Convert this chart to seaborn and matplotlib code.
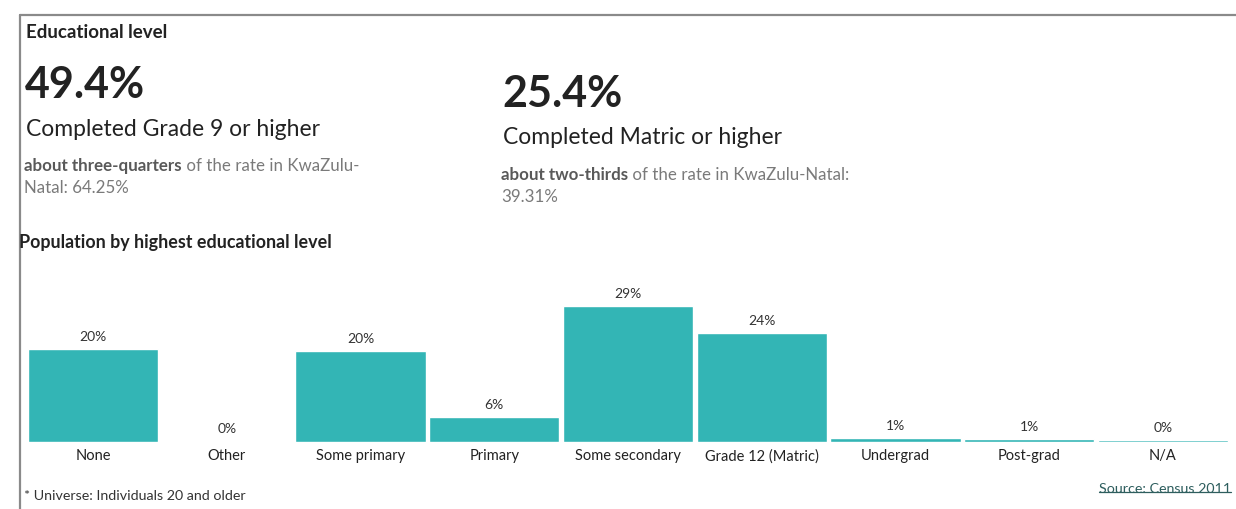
import matplotlib
matplotlib.use("Agg")
import matplotlib.pyplot as plt
import seaborn as sns
import pandas as pd
from matplotlib.lines import Line2D

# ---- data ----
categories = ["None", "Other", "Some primary", "Primary", "Some secondary",
              "Grade 12 (Matric)", "Undergrad", "Post-grad", "N/A"]
values = [19.8, 0.0, 19.4, 5.3, 29.0, 23.3, 0.85, 0.6, 0.35]
value_labels = ["20%", "0%", "20%", "6%", "29%", "24%", "1%", "1%", "0%"]

stat1_value = "49.4%"
stat1_title = "Completed Grade 9 or higher"
stat1_bold = "about three-quarters"
stat1_rest = [" of the rate in KwaZulu-", "Natal: 64.25%"]
stat2_value = "25.4%"
stat2_title = "Completed Matric or higher"
stat2_bold = "about two-thirds"
stat2_rest = [" of the rate in KwaZulu-Natal:", "39.31%"]

sns.set_style("white")
plt.rcParams["font.family"] = ["Lato", "DejaVu Sans"]

W, H = 1236, 510
fig = plt.figure(figsize=(W / 100, H / 100), dpi=100)

BAR = "#33b5b5"
DARK = "#222222"
GRAY = "#7a7a7a"
GRAYB = "#595959"

def px(x, y):
    return x / W, 1 - y / H

# border
fig.add_artist(Line2D([20 / W, 20 / W], [0, 1 - 16 / H], color="#8a8a8a", lw=1.6))
fig.add_artist(Line2D([20 / W, 1], [1 - 16 / H, 1 - 16 / H], color="#8a8a8a", lw=1.6))

# header texts
fig.text(*px(26, 32), "Educational level", fontsize=13.5, fontweight="bold",
         color=DARK, va="center", ha="left")

def stat_block(x, yv, yt, yd, value, title, bold, rest):
    fig.text(*px(x - 1, yv), value, fontsize=31, fontweight="bold",
             color=DARK, va="center", ha="left")
    fig.text(*px(x, yt), title, fontsize=16.5, color=DARK, va="center", ha="left")
    tb = fig.text(*px(x - 2, yd), bold, fontsize=12.2, fontweight="bold",
                  color=GRAYB, va="center", ha="left")
    fig.canvas.draw()
    bb = tb.get_window_extent()
    fig.text(bb.x1 / W, 1 - yd / H, rest[0], fontsize=12.2, color=GRAY,
             va="center", ha="left")
    fig.text(*px(x - 2, yd + 22), rest[1], fontsize=12.2, color=GRAY,
             va="center", ha="left")

stat_block(26, 85, 130, 166, stat1_value, stat1_title, stat1_bold, stat1_rest)
stat_block(503, 94, 138, 175, stat2_value, stat2_title, stat2_bold, stat2_rest)

fig.text(*px(19, 243), "Population by highest educational level", fontsize=12.9,
         fontweight="bold", color=DARK, va="center", ha="left")

# bar chart
left, right = 26.3, 1229.7
base = 442.5
ymax = 32
scale = 135.3 / 29.0
top = base - ymax * scale
ax = fig.add_axes([left / W, (H - base) / H, (right - left) / W, (base - top) / H])
df = pd.DataFrame({"cat": categories, "val": values})
sns.barplot(data=df, x="cat", y="val", color=BAR, saturation=1, width=0.975,
            ax=ax, order=categories)
ax.set_xlim(-0.5, len(categories) - 0.5)
ax.set_ylim(0, ymax)
ax.set_xlabel("")
ax.set_ylabel("")
ax.set_yticks([])
for s in ax.spines.values():
    s.set_visible(False)
ax.tick_params(axis="x", length=0, pad=5, labelsize=10.5, labelcolor="#222222")
for i, (v, lab) in enumerate(zip(values, value_labels)):
    ax.annotate(lab, (i, v), xytext=(0, 13), textcoords="offset pixels",
                ha="center", va="center", fontsize=10, color="#333333")

# footer
fig.text(*px(24, 496), "* Universe: Individuals 20 and older", fontsize=10.3,
         color="#333333", va="center", ha="left")
src = fig.text(*px(1231, 489), "Source: Census 2011", fontsize=10.3,
               color="#2e5e5e", va="center", ha="right")
fig.canvas.draw()
sb = src.get_window_extent()
fig.add_artist(Line2D([sb.x0 / W, sb.x1 / W], [(sb.y0 + 2) / H, (sb.y0 + 2) / H],
                      color="#2e5e5e", lw=0.9))

fig.savefig("out.png", dpi=100)
